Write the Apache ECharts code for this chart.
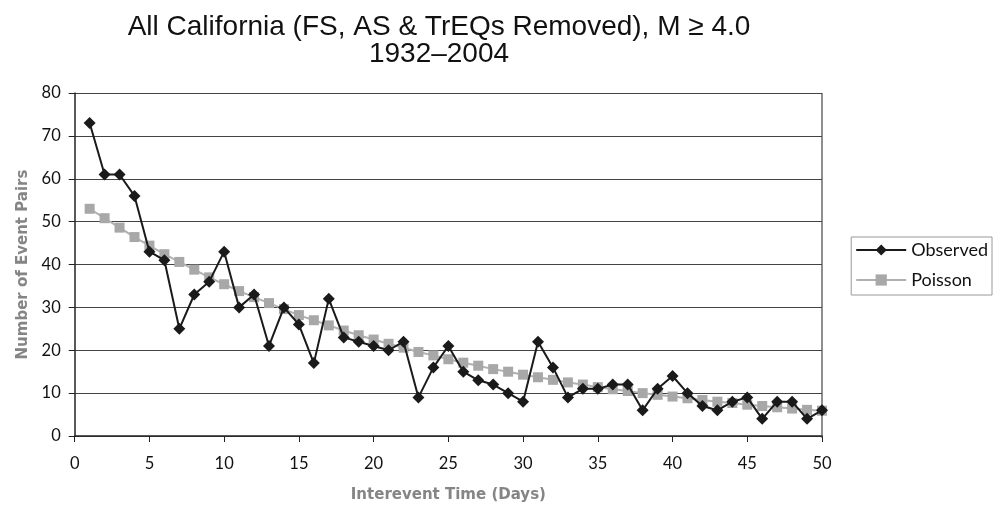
<!DOCTYPE html>
<html><head><meta charset="utf-8">
<script src="https://cdn.jsdelivr.net/npm/echarts@6/dist/echarts.min.js"></script>
<style>html,body{margin:0;padding:0;background:#fff}#c{width:994px;height:508px}</style>
</head><body><div id="c"></div>
<script>
const days = [1,2,3,4,5,6,7,8,9,10,11,12,13,14,15,16,17,18,19,20,21,22,23,24,25,26,27,28,29,30,31,32,33,34,35,36,37,38,39,40,41,42,43,44,45,46,47,48,49,50];
const observed = [73,61,61,56,43,41,25,33,36,43,30,33,21,30,26,17,32,23,22,21,20,22,9,16,21,15,13,12,10,8,22,16,9,11,11,12,12,6,11,14,10,7,6,8,9,4,8,8,4,6];
const poisson = [53,50.8,48.6,46.4,44.4,42.4,40.6,38.8,37,35.4,33.8,32.4,31,29.6,28.2,27,25.8,24.6,23.5,22.5,21.5,20.6,19.6,18.8,17.9,17.1,16.4,15.6,15,14.3,13.7,13.1,12.5,12,11.4,10.9,10.5,10,9.6,9.2,8.8,8.4,8,7.7,7.3,7,6.7,6.4,6.1,5.9];
const titleLines = ['All California (FS, AS & TrEQs Removed), M \u2265 4.0', '1932\u20132004'];

const chart = echarts.init(document.getElementById('c'));
chart.setOption({
  animation: false,
  title: {
    text: titleLines.join('\n'),
    left: 434, top: 9, textAlign: 'center',
    textStyle: {fontFamily: 'Liberation Sans', fontSize: 28, fontWeight: 'normal', color: '#111', lineHeight: 27}
  },
  legend: {
    orient: 'vertical', right: 2, top: 237,
    itemWidth: 50, itemHeight: 14, itemGap: 10,
    borderColor: '#999', borderWidth: 1, padding: [3, 4, 5, 4],
    textStyle: {fontFamily: 'Lato', fontSize: 18, color: '#111', lineHeight: 20},
    data: ['Observed', 'Poisson']
  },
  grid: {left: 74.7, right: 172, top: 93, bottom: 70, containLabel: false},
  xAxis: {
    type: 'value', min: 0, max: 50, interval: 5,
    name: 'Interevent Time (Days)', nameLocation: 'middle', nameGap: 52,
    nameTextStyle: {fontFamily: 'DejaVu Sans', fontSize: 15, fontWeight: 'bold', color: '#858585'},
    axisLine: {show: true, lineStyle: {color: '#222', width: 1.5}},
    axisTick: {show: true, inside: false, length: 6, lineStyle: {color: '#222'}},
    axisLabel: {fontFamily: 'Lato', fontSize: 16.5, color: '#111', margin: 19},
    splitLine: {show: false}
  },
  yAxis: {
    type: 'value', min: 0, max: 80, interval: 10,
    name: 'Number of Event Pairs', nameLocation: 'middle', nameGap: 40,
    nameTextStyle: {fontFamily: 'DejaVu Sans', fontSize: 15, fontWeight: 'bold', color: '#858585'},
    axisLine: {show: true, lineStyle: {color: '#222', width: 1.5}},
    axisTick: {show: true, inside: false, length: 6, lineStyle: {color: '#222'}},
    axisLabel: {fontFamily: 'Lato', fontSize: 16.5, color: '#111', margin: 14},
    splitLine: {show: true, lineStyle: {color: '#444', width: 1.2}}
  },
  series: [
    {
      name: 'Poisson', type: 'line', z: 2,
      data: days.map((d, i) => [d, poisson[i]]),
      symbol: 'rect', symbolSize: 10,
      lineStyle: {color: '#b0b0b0', width: 2},
      itemStyle: {color: '#a8a8a8'}
    },
    {
      name: 'Observed', type: 'line', z: 3,
      data: days.map((d, i) => [d, observed[i]]),
      symbol: 'diamond', symbolSize: 12,
      lineStyle: {color: '#1a1a1a', width: 2},
      itemStyle: {color: '#1a1a1a'}
    }
  ],
  graphic: [{
    type: 'line', z: 1,
    shape: {x1: 822, y1: 93, x2: 822, y2: 438},
    style: {stroke: '#444', lineWidth: 1.2}
  }]
});
</script></body></html>
